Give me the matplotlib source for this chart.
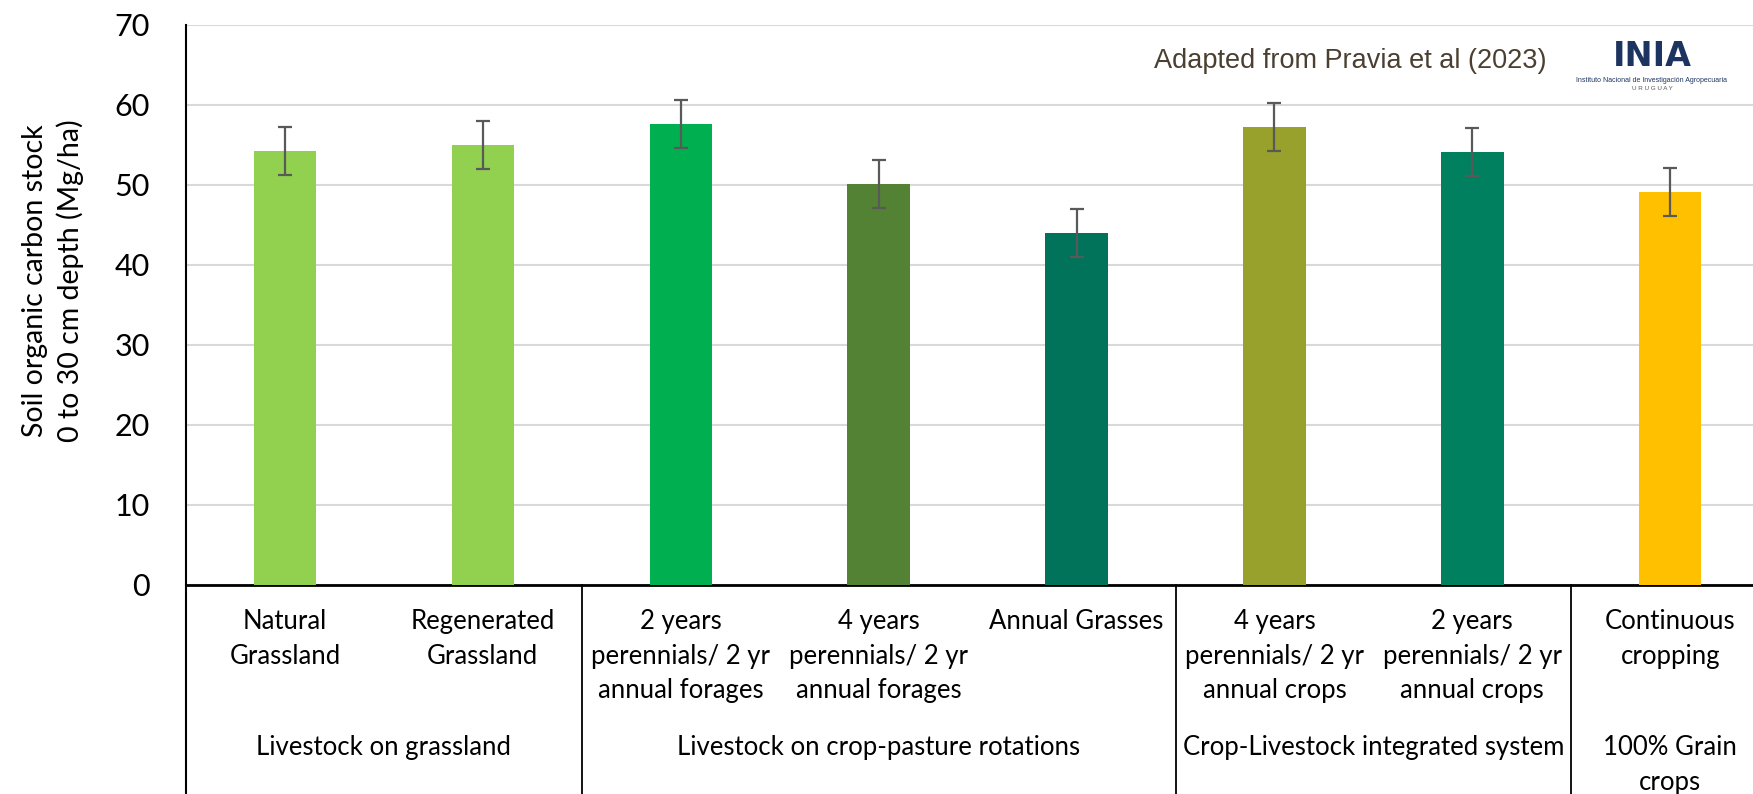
import numpy as np
import matplotlib.pyplot as plt
from matplotlib.transforms import blended_transform_factory

systems = ["Natural\nGrassland", "Regenerated\nGrassland",
           "2 years\nperennials/ 2 yr\nannual forages", "4 years\nperennials/ 2 yr\nannual forages",
           "Annual Grasses",
           "4 years\nperennials/ 2 yr\nannual crops", "2 years\nperennials/ 2 yr\nannual crops",
           "Continuous\ncropping"]
soc_stock = [54.2, 55.0, 57.6, 50.1, 44.0, 57.2, 54.1, 49.1]
soc_err = [3, 3, 3, 3, 3, 3, 3, 3]
bar_colors = ["#92D050", "#92D050", "#00B050", "#548235", "#00735A",
              "#97A12B", "#00805F", "#FFC000"]

groups = ["Livestock on grassland", "Livestock on crop-pasture rotations",
          "Crop-Livestock integrated system", "100% Grain\ncrops"]
group_sizes = [2, 3, 2, 1]

W, H = 1753, 794
fig = plt.figure(figsize=(W / 100, H / 100), dpi=100)

# axes box in pixels: left edge, zero line, top (70) line, one category = ~198 px
x0, y0, ytop, step = 186, 585, 24.5, 197.9
ax = fig.add_axes([x0 / W, 1 - y0 / H, 8 * step / W, (y0 - ytop) / H])

x = np.arange(len(systems))
ax.bar(x, soc_stock, width=0.315, color=bar_colors, zorder=3)
ax.errorbar(x, soc_stock, yerr=soc_err, fmt="none", ecolor="#595959",
            elinewidth=1.6, capsize=5, capthick=1.6, zorder=4)

ax.set_xlim(-0.5, len(systems) - 0.5)
ax.set_ylim(0, 70)
ax.set_yticks(range(0, 80, 10))
ax.yaxis.grid(True, color="#d9d9d9", lw=1.5, zorder=0)
ax.set_xticks([])
ax.tick_params(axis="y", length=0, pad=26, labelsize=22)
for lab in ax.get_yticklabels():
    lab.set_family("Lato")

for s in ["top", "right"]:
    ax.spines[s].set_visible(False)
ax.spines["left"].set_linewidth(1.5)
ax.spines["bottom"].set_linewidth(2)

# table under the bars: category names, group names and separators
tr = blended_transform_factory(ax.transData, ax.transAxes)
ppx = 1 / (y0 - ytop)  # one pixel in axes fraction
for xi, name in zip(x, systems):
    ax.text(xi, -24 * ppx, name, transform=tr, ha="center", va="top",
            fontsize=18.5, family="Lato", linespacing=1.48, multialignment="center")

edges = np.concatenate([[0], np.cumsum(group_sizes)]) - 0.5
for i, g in enumerate(groups):
    mid = (edges[i] + edges[i + 1]) / 2
    ax.text(mid, -150 * ppx, g, transform=tr, ha="center", va="top",
            fontsize=18.5, family="Lato", linespacing=1.48, multialignment="center")
for e in edges[:-1]:
    ax.plot([e, e], [0, -0.45], transform=tr, color="black",
            lw=1.5 if e == edges[0] else 1.3, clip_on=False)

fig.text(53 / W, 1 - 281 / H, "Soil organic carbon stock\n0 to 30 cm depth (Mg/ha)",
         rotation=90, ha="center", va="center", fontsize=20.5, family="Lato",
         multialignment="center", linespacing=1.35)

fig.text(1350 / W, 1 - 61 / H, "Adapted from Pravia et al (2023)", ha="center",
         va="center", fontsize=19.5, family="Liberation Sans", color="#4a3f30")

# INIA mark
fig.text(1652 / W, 1 - 56 / H, "INIA", ha="center", va="center", fontsize=24,
         family="DejaVu Sans", weight="heavy", color="#1d3461")
fig.text(1652 / W, 1 - 81 / H, "Instituto Nacional de Investigación Agropecuaria",
         ha="center", va="center", fontsize=5, family="Liberation Sans", color="#1d3461")
fig.text(1652 / W, 1 - 89 / H, "U R U G U A Y", ha="center", va="center",
         fontsize=4.5, family="Liberation Sans", color="#555555")

fig.savefig("out.png", dpi=100)
